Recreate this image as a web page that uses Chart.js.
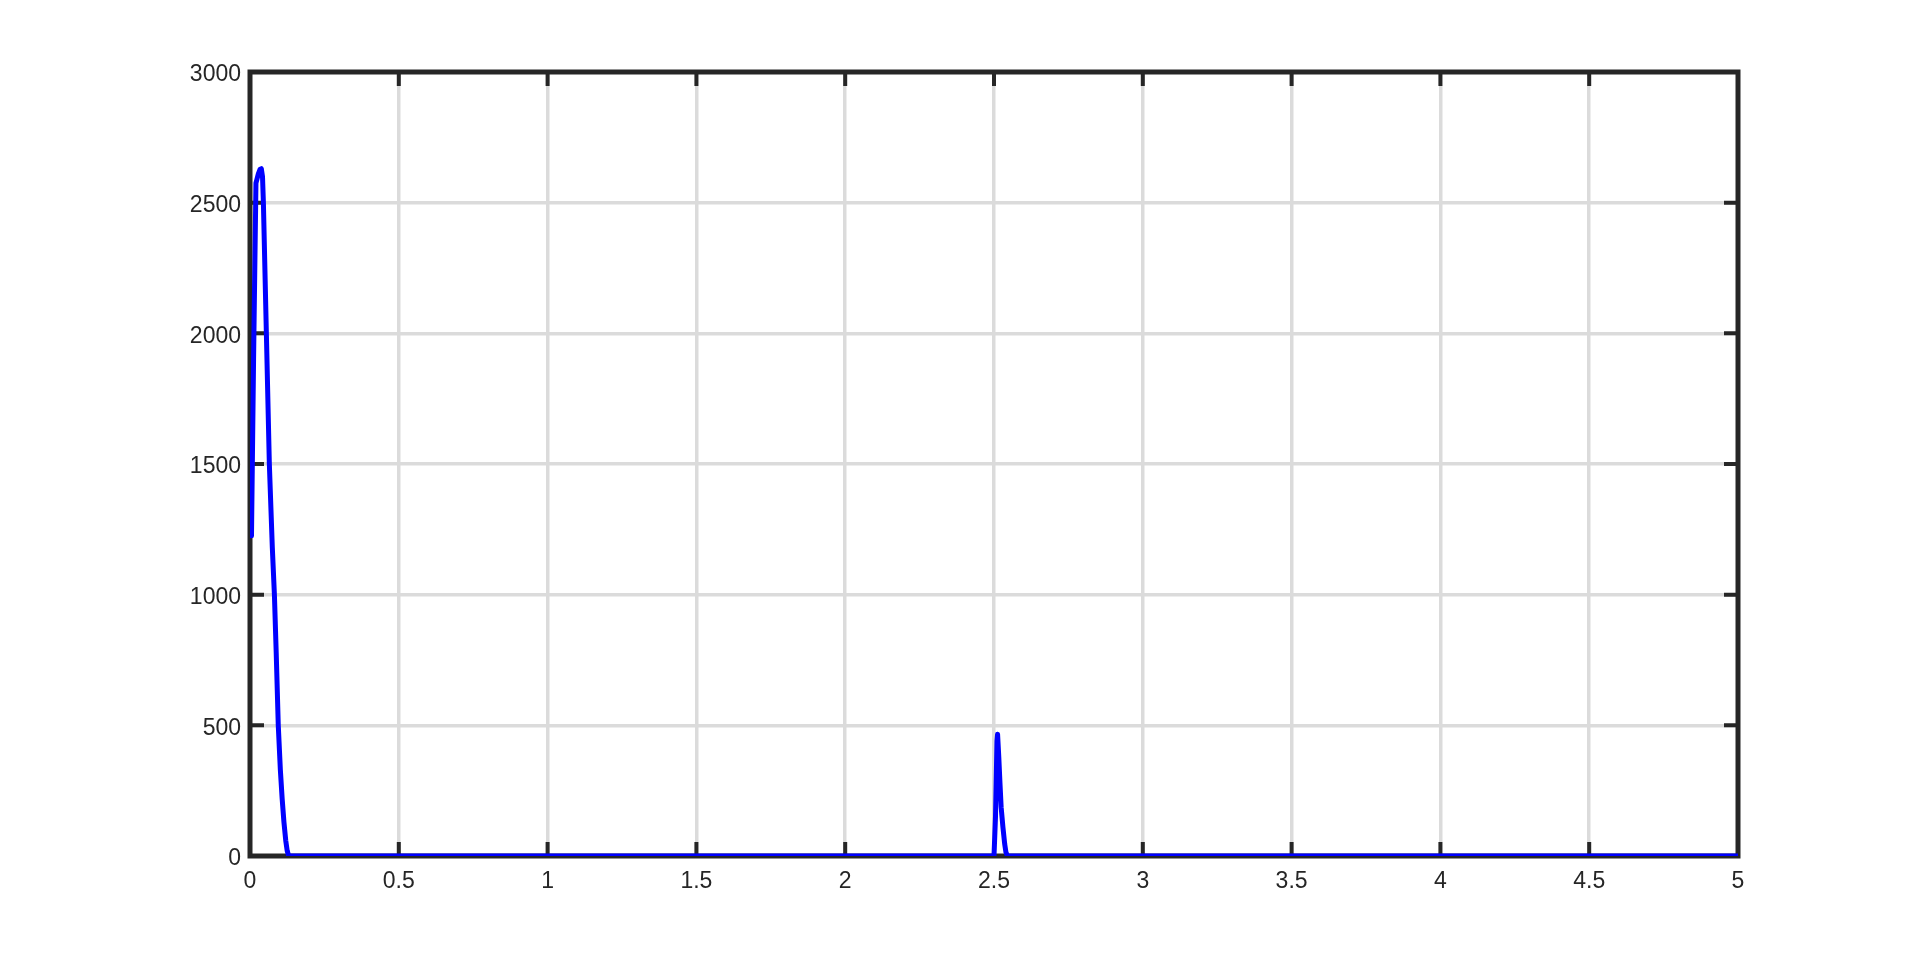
<!DOCTYPE html>
<html>
<head>
<meta charset="utf-8">
<script src="https://cdn.jsdelivr.net/npm/chart.js@4"></script>
<style>
html,body{margin:0;padding:0;background:#fff;}
#c{display:block;}
</style>
</head>
<body>
<canvas id="c" width="1920" height="963"></canvas>
<script>
// Time-like x values and magnitude y values
const xValues = [0.005, 0.012, 0.02, 0.028, 0.034, 0.038, 0.042, 0.045, 0.055, 0.065, 0.075, 0.082, 0.088, 0.095, 0.102, 0.108, 0.114, 0.12, 0.125, 0.13, 0.14,
                 2.49, 2.5, 2.505, 2.51, 2.512, 2.516, 2.52, 2.524, 2.53, 2.536, 2.54, 2.545, 2.55, 5.0];
const yValues = [1225, 1900, 2575, 2610, 2628, 2630, 2600, 2500, 2000, 1500, 1180, 1000, 780, 500, 330, 220, 130, 60, 20, 0, 0,
                 0, 0, 150, 440, 466, 380, 280, 187, 110, 45, 15, 0, 0, 0];
const xTicks = [0, 0.5, 1, 1.5, 2, 2.5, 3, 3.5, 4, 4.5, 5];
const yTicks = [0, 500, 1000, 1500, 2000, 2500, 3000];

const points = xValues.map((x, i) => ({x: x, y: yValues[i]}));

const AXIS_COLOR = '#262626';
const FONT = {family: 'Arial, Liberation Sans, Helvetica, sans-serif', size: 23};

const boxPlugin = {
  id: 'matlabBox',
  beforeDatasetsDraw(chart) {
    const {ctx, chartArea: a, scales} = chart;
    const len = 14;
    ctx.save();
    ctx.strokeStyle = AXIS_COLOR;
    ctx.lineWidth = 4;
    ctx.lineCap = 'butt';
    ctx.beginPath();
    xTicks.forEach(v => {
      const px = scales.x.getPixelForValue(v);
      ctx.moveTo(px, a.bottom); ctx.lineTo(px, a.bottom - len);
      ctx.moveTo(px, a.top); ctx.lineTo(px, a.top + len);
    });
    yTicks.forEach(v => {
      const py = scales.y.getPixelForValue(v);
      ctx.moveTo(a.left, py); ctx.lineTo(a.left + len, py);
      ctx.moveTo(a.right, py); ctx.lineTo(a.right - len, py);
    });
    ctx.stroke();
    ctx.lineWidth = 5;
    ctx.strokeRect(a.left, a.top, a.right - a.left, a.bottom - a.top);
    ctx.restore();
  }
};

new Chart(document.getElementById('c'), {
  type: 'scatter',
  data: {
    datasets: [{
      data: points,
      showLine: true,
      borderColor: '#0000ff',
      backgroundColor: '#0000ff',
      borderWidth: 5,
      pointRadius: 0,
      tension: 0,
      borderJoinStyle: 'round',
      borderCapStyle: 'round'
    }]
  },
  options: {
    responsive: false,
    animation: false,
    devicePixelRatio: 1,
    layout: {padding: {top: 72, right: 182, left: 0, bottom: 0}},
    plugins: {legend: {display: false}, tooltip: {enabled: false}},
    scales: {
      x: {
        type: 'linear',
        min: 0, max: 5,
        afterFit: s => { s.height = 107; },
        afterBuildTicks: s => { s.ticks = xTicks.map(v => ({value: v})); },
        ticks: {color: AXIS_COLOR, font: FONT, padding: 12, maxRotation: 0,
                callback: v => String(v)},
        grid: {color: '#dbdbdb', lineWidth: 3.5, drawTicks: false},
        border: {display: false}
      },
      y: {
        type: 'linear',
        min: 0, max: 3000,
        afterFit: s => { s.width = 250; },
        afterBuildTicks: s => { s.ticks = yTicks.map(v => ({value: v})); },
        ticks: {color: AXIS_COLOR, font: FONT, padding: 9, labelOffset: 3,
                callback: v => String(v)},
        grid: {color: '#dbdbdb', lineWidth: 3.5, drawTicks: false},
        border: {display: false}
      }
    }
  },
  plugins: [boxPlugin]
});
</script>
</body>
</html>
